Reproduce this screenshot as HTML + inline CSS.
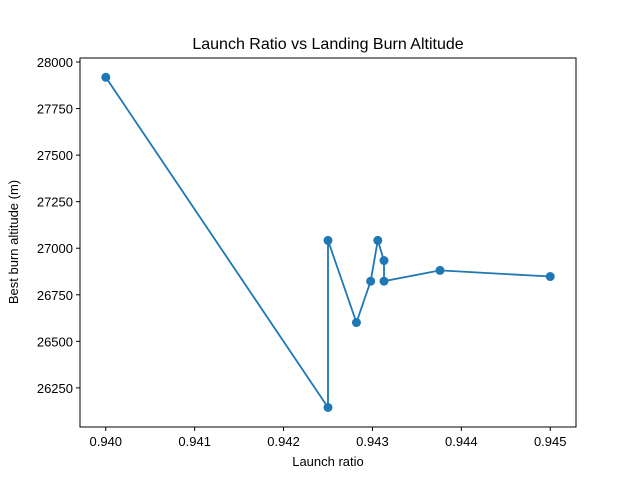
<!DOCTYPE html>
<html><head><meta charset="utf-8"><style>body{margin:0;background:#fff}svg{display:block;font-family:"Liberation Sans","DejaVu Sans",sans-serif}</style></head>
<body>
<svg id="chart" width="640" height="480"></svg>
<script>
const xValues=[0.94,0.9425,0.9425,0.94282,0.94298,0.94306,0.94313,0.94313,0.94376,0.945];
const yValues=[27918,26145,27042,26601,26823,27042,26934,26823,26881,26848];
const xTicks=[0.940,0.941,0.942,0.943,0.944,0.945];
const yTicks=[26250,26500,26750,27000,27250,27500,27750,28000];
const L=80,R=576,T=58,B=427;
const xmin=0.93971,xmax=0.94529,ymin=26040,ymax=28021.5;
const sx=v=>L+(v-xmin)/(xmax-xmin)*(R-L);
const sy=v=>B-(v-ymin)/(ymax-ymin)*(B-T);
const svg=document.getElementById('chart');const NS='http://www.w3.org/2000/svg';
function mk(t,a,p){const e=document.createElementNS(NS,t);for(const k in a)e.setAttribute(k,a[k]);(p||svg).appendChild(e);return e;}
let t=mk('text',{x:328,y:49,'font-size':16,'text-anchor':'middle'});t.textContent='Launch Ratio vs Landing Burn Altitude';


xTicks.forEach(v=>{const x=sx(v);const l=mk('line',{x1:x,x2:x,y1:B,y2:B+4,stroke:'#000'});


const tx=mk('text',{x:x,y:B+19,'font-size':13,'text-anchor':'middle'});tx.textContent=v.toFixed(3);

});
yTicks.forEach(v=>{const y=sy(v);const l=mk('line',{x1:L-4,x2:L,y1:y,y2:y,stroke:'#000'});


const tx=mk('text',{x:L-7,y:y+5,'font-size':13,'text-anchor':'end'});tx.textContent=v;

});
t=mk('text',{x:328,y:466,'font-size':13,'text-anchor':'middle'});t.textContent='Launch ratio';


t=mk('text',{x:18,y:242,'font-size':13,'text-anchor':'middle',transform:'rotate(-90 18 242)'});t.textContent='Best burn altitude (m)';


const pl=mk('polyline',{points:xValues.map((v,i)=>sx(v)+','+sy(yValues[i])).join(' '),fill:'none',stroke:'#1f77b4','stroke-width':1.8});


xValues.forEach((v,i)=>{const c=mk('circle',{cx:sx(v),cy:sy(yValues[i]),r:4.5,fill:'#1f77b4'});

});
const fr=mk('rect',{x:L,y:T,width:R-L,height:B-T,fill:'none',stroke:'#000','stroke-width':1});


</script>
</body></html>
